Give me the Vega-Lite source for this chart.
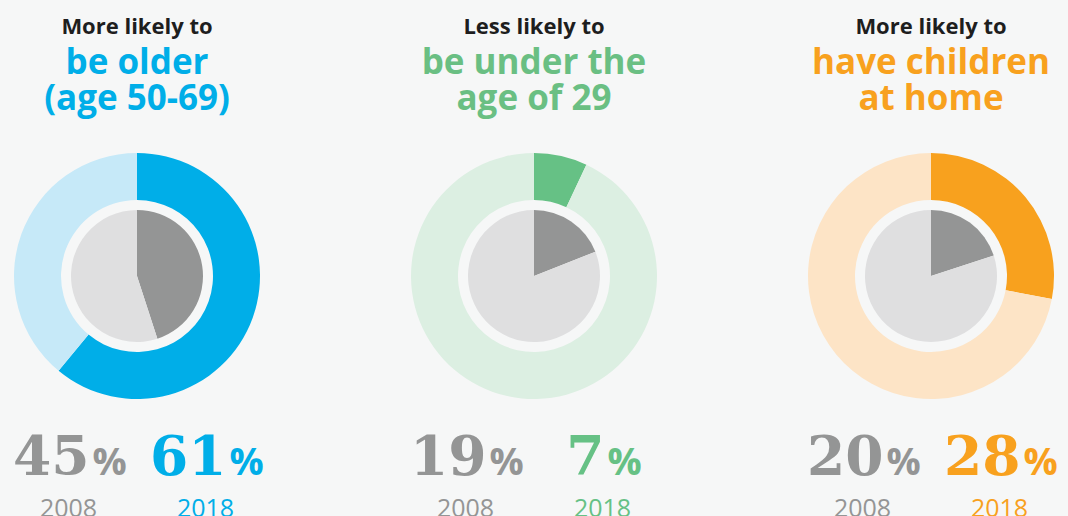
{
  "$schema": "https://vega.github.io/schema/vega-lite/v6.json",
  "background": "#f6f7f7",
  "padding": {"top": 16, "left": 0, "right": 0, "bottom": 0},
  "datasets": {
    "arcs": [
      {"panel": "older", "ring": "2018", "seg": "older-2018", "v": 61, "o": 1},
      {"panel": "older", "ring": "2018", "seg": "older-2018-rest", "v": 39, "o": 2},
      {"panel": "older", "ring": "2008", "seg": "2008", "v": 45, "o": 1},
      {"panel": "older", "ring": "2008", "seg": "2008-rest", "v": 55, "o": 2},
      {"panel": "young", "ring": "2018", "seg": "young-2018", "v": 7, "o": 1},
      {"panel": "young", "ring": "2018", "seg": "young-2018-rest", "v": 93, "o": 2},
      {"panel": "young", "ring": "2008", "seg": "2008", "v": 19, "o": 1},
      {"panel": "young", "ring": "2008", "seg": "2008-rest", "v": 81, "o": 2},
      {"panel": "kids", "ring": "2018", "seg": "kids-2018", "v": 28, "o": 1},
      {"panel": "kids", "ring": "2018", "seg": "kids-2018-rest", "v": 72, "o": 2},
      {"panel": "kids", "ring": "2008", "seg": "2008", "v": 20, "o": 1},
      {"panel": "kids", "ring": "2008", "seg": "2008-rest", "v": 80, "o": 2}
    ],
    "labels": [
      {"panel": "older", "year": "2008", "pct": 45, "seg": "2008"},
      {"panel": "older", "year": "2018", "pct": 61, "seg": "older-2018"},
      {"panel": "young", "year": "2008", "pct": 19, "seg": "2008"},
      {"panel": "young", "year": "2018", "pct": 7, "seg": "young-2018"},
      {"panel": "kids", "year": "2008", "pct": 20, "seg": "2008"},
      {"panel": "kids", "year": "2018", "pct": 28, "seg": "kids-2018"}
    ]
  },
  "config": {
    "view": {"stroke": null},
    "title": {
      "font": "Open Sans", "fontSize": 22, "fontWeight": "bold", "color": "#1e1e1e",
      "subtitleFont": "Open Sans", "subtitleFontSize": 35, "subtitleFontWeight": "bold",
      "subtitleLineHeight": 36, "subtitlePadding": 7, "anchor": "middle", "offset": 33
    }
  },
  "hconcat": [
    {
      "vconcat": [
        {
          "title": {"text": "More likely to", "subtitle": ["be older", "(age 50-69)"], "subtitleColor": "#00aee8"},
          "width": 274, "height": 250,
          "data": {"name": "arcs"},
          "transform": [{"filter": "datum.panel === 'older'"}],
          "layer": [
            {
              "transform": [{"filter": "datum.ring === '2018'"}],
              "mark": {"type": "arc", "outerRadius": 123, "innerRadius": 76},
              "encoding": {
                "theta": {"field": "v", "type": "quantitative", "stack": true},
                "order": {"field": "o", "type": "quantitative"},
                "color": {"field": "seg", "type": "nominal", "legend": null,
                  "scale": {"domain": ["older-2018", "older-2018-rest", "young-2018", "young-2018-rest", "kids-2018", "kids-2018-rest", "2008", "2008-rest"],
                            "range": ["#00aee8", "#c6e9f8", "#66c185", "#dcefe2", "#f8a11e", "#fde4c6", "#949595", "#dfdfe0"]}}
              }
            },
            {
              "transform": [{"filter": "datum.ring === '2008'"}],
              "mark": {"type": "arc", "outerRadius": 66},
              "encoding": {
                "theta": {"field": "v", "type": "quantitative", "stack": true},
                "order": {"field": "o", "type": "quantitative"},
                "color": {"field": "seg", "type": "nominal", "legend": null,
                  "scale": {"domain": ["older-2018", "older-2018-rest", "young-2018", "young-2018-rest", "kids-2018", "kids-2018-rest", "2008", "2008-rest"],
                            "range": ["#00aee8", "#c6e9f8", "#66c185", "#dcefe2", "#f8a11e", "#fde4c6", "#949595", "#dfdfe0"]}}
              }
            }
          ]
        },
        {
          "width": 274, "height": 148,
          "data": {"name": "labels"},
          "transform": [{"filter": "datum.panel === 'older'"}],
          "encoding": {
            "x": {"field": "year", "type": "nominal", "axis": null, "scale": {"type": "point", "padding": 0.5, "domain": ["2008", "2018"]}},
            "color": {"field": "seg", "type": "nominal", "legend": null,
              "scale": {"domain": ["older-2018", "older-2018-rest", "young-2018", "young-2018-rest", "kids-2018", "kids-2018-rest", "2008", "2008-rest"],
                        "range": ["#00aee8", "#c6e9f8", "#66c185", "#dcefe2", "#f8a11e", "#fde4c6", "#999999", "#dfdfe0"]}}
          },
          "layer": [
            {"mark": {"type": "text", "font": "DejaVu Serif", "fontWeight": "bold", "fontSize": 55, "align": "right", "baseline": "alphabetic", "dx": {"expr": "datum.pct < 10 ? 2 : 21"}},
             "encoding": {"text": {"field": "pct", "type": "quantitative"}}},
            {"mark": {"type": "text", "font": "Open Sans", "fontWeight": "bold", "fontSize": 38, "align": "left", "baseline": "alphabetic", "dx": {"expr": "datum.pct < 10 ? 5 : 24"}},
             "encoding": {"text": {"value": "%"}}},
            {"mark": {"type": "text", "font": "Open Sans", "fontSize": 25, "align": "center", "baseline": "alphabetic", "dy": 42},
             "encoding": {"text": {"field": "year", "type": "nominal"}}}
          ]
        }
      ],
      "spacing": 0
    },
    {
      "vconcat": [
        {
          "title": {"text": "Less likely to", "subtitle": ["be under the", "age of 29"], "subtitleColor": "#6abf83"},
          "width": 274, "height": 250,
          "data": {"name": "arcs"},
          "transform": [{"filter": "datum.panel === 'young'"}],
          "layer": [
            {
              "transform": [{"filter": "datum.ring === '2018'"}],
              "mark": {"type": "arc", "outerRadius": 123, "innerRadius": 76},
              "encoding": {
                "theta": {"field": "v", "type": "quantitative", "stack": true},
                "order": {"field": "o", "type": "quantitative"},
                "color": {"field": "seg", "type": "nominal", "legend": null,
                  "scale": {"domain": ["older-2018", "older-2018-rest", "young-2018", "young-2018-rest", "kids-2018", "kids-2018-rest", "2008", "2008-rest"],
                            "range": ["#00aee8", "#c6e9f8", "#66c185", "#dcefe2", "#f8a11e", "#fde4c6", "#949595", "#dfdfe0"]}}
              }
            },
            {
              "transform": [{"filter": "datum.ring === '2008'"}],
              "mark": {"type": "arc", "outerRadius": 66},
              "encoding": {
                "theta": {"field": "v", "type": "quantitative", "stack": true},
                "order": {"field": "o", "type": "quantitative"},
                "color": {"field": "seg", "type": "nominal", "legend": null,
                  "scale": {"domain": ["older-2018", "older-2018-rest", "young-2018", "young-2018-rest", "kids-2018", "kids-2018-rest", "2008", "2008-rest"],
                            "range": ["#00aee8", "#c6e9f8", "#66c185", "#dcefe2", "#f8a11e", "#fde4c6", "#949595", "#dfdfe0"]}}
              }
            }
          ]
        },
        {
          "width": 274, "height": 148,
          "data": {"name": "labels"},
          "transform": [{"filter": "datum.panel === 'young'"}],
          "encoding": {
            "x": {"field": "year", "type": "nominal", "axis": null, "scale": {"type": "point", "padding": 0.5, "domain": ["2008", "2018"]}},
            "color": {"field": "seg", "type": "nominal", "legend": null,
              "scale": {"domain": ["older-2018", "older-2018-rest", "young-2018", "young-2018-rest", "kids-2018", "kids-2018-rest", "2008", "2008-rest"],
                        "range": ["#00aee8", "#c6e9f8", "#66c185", "#dcefe2", "#f8a11e", "#fde4c6", "#999999", "#dfdfe0"]}}
          },
          "layer": [
            {"mark": {"type": "text", "font": "DejaVu Serif", "fontWeight": "bold", "fontSize": 55, "align": "right", "baseline": "alphabetic", "dx": {"expr": "datum.pct < 10 ? 2 : 21"}},
             "encoding": {"text": {"field": "pct", "type": "quantitative"}}},
            {"mark": {"type": "text", "font": "Open Sans", "fontWeight": "bold", "fontSize": 38, "align": "left", "baseline": "alphabetic", "dx": {"expr": "datum.pct < 10 ? 5 : 24"}},
             "encoding": {"text": {"value": "%"}}},
            {"mark": {"type": "text", "font": "Open Sans", "fontSize": 25, "align": "center", "baseline": "alphabetic", "dy": 42},
             "encoding": {"text": {"field": "year", "type": "nominal"}}}
          ]
        }
      ],
      "spacing": 0
    },
    {
      "vconcat": [
        {
          "title": {"text": "More likely to", "subtitle": ["have children", "at home"], "subtitleColor": "#f8a11e"},
          "width": 274, "height": 250,
          "data": {"name": "arcs"},
          "transform": [{"filter": "datum.panel === 'kids'"}],
          "layer": [
            {
              "transform": [{"filter": "datum.ring === '2018'"}],
              "mark": {"type": "arc", "outerRadius": 123, "innerRadius": 76},
              "encoding": {
                "theta": {"field": "v", "type": "quantitative", "stack": true},
                "order": {"field": "o", "type": "quantitative"},
                "color": {"field": "seg", "type": "nominal", "legend": null,
                  "scale": {"domain": ["older-2018", "older-2018-rest", "young-2018", "young-2018-rest", "kids-2018", "kids-2018-rest", "2008", "2008-rest"],
                            "range": ["#00aee8", "#c6e9f8", "#66c185", "#dcefe2", "#f8a11e", "#fde4c6", "#949595", "#dfdfe0"]}}
              }
            },
            {
              "transform": [{"filter": "datum.ring === '2008'"}],
              "mark": {"type": "arc", "outerRadius": 66},
              "encoding": {
                "theta": {"field": "v", "type": "quantitative", "stack": true},
                "order": {"field": "o", "type": "quantitative"},
                "color": {"field": "seg", "type": "nominal", "legend": null,
                  "scale": {"domain": ["older-2018", "older-2018-rest", "young-2018", "young-2018-rest", "kids-2018", "kids-2018-rest", "2008", "2008-rest"],
                            "range": ["#00aee8", "#c6e9f8", "#66c185", "#dcefe2", "#f8a11e", "#fde4c6", "#949595", "#dfdfe0"]}}
              }
            }
          ]
        },
        {
          "width": 274, "height": 148,
          "data": {"name": "labels"},
          "transform": [{"filter": "datum.panel === 'kids'"}],
          "encoding": {
            "x": {"field": "year", "type": "nominal", "axis": null, "scale": {"type": "point", "padding": 0.5, "domain": ["2008", "2018"]}},
            "color": {"field": "seg", "type": "nominal", "legend": null,
              "scale": {"domain": ["older-2018", "older-2018-rest", "young-2018", "young-2018-rest", "kids-2018", "kids-2018-rest", "2008", "2008-rest"],
                        "range": ["#00aee8", "#c6e9f8", "#66c185", "#dcefe2", "#f8a11e", "#fde4c6", "#999999", "#dfdfe0"]}}
          },
          "layer": [
            {"mark": {"type": "text", "font": "DejaVu Serif", "fontWeight": "bold", "fontSize": 55, "align": "right", "baseline": "alphabetic", "dx": {"expr": "datum.pct < 10 ? 2 : 21"}},
             "encoding": {"text": {"field": "pct", "type": "quantitative"}}},
            {"mark": {"type": "text", "font": "Open Sans", "fontWeight": "bold", "fontSize": 38, "align": "left", "baseline": "alphabetic", "dx": {"expr": "datum.pct < 10 ? 5 : 24"}},
             "encoding": {"text": {"value": "%"}}},
            {"mark": {"type": "text", "font": "Open Sans", "fontSize": 25, "align": "center", "baseline": "alphabetic", "dy": 42},
             "encoding": {"text": {"field": "year", "type": "nominal"}}}
          ]
        }
      ],
      "spacing": 0
    }
  ],
  "spacing": 123
}
